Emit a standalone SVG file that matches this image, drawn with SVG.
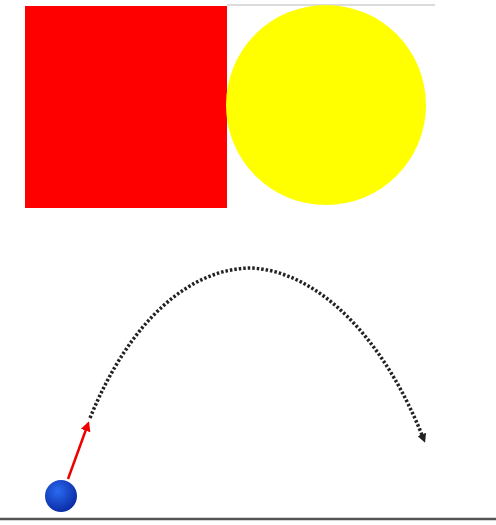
<svg xmlns="http://www.w3.org/2000/svg" width="496" height="525" viewBox="0 0 496 525">
<defs>
<marker id="ah" markerWidth="9" markerHeight="9" refX="6" refY="4.5" orient="auto" markerUnits="userSpaceOnUse"><path d="M0,0 L9,4.5 L0,9 z" fill="#222"/></marker>
<marker id="ahr" markerWidth="10" markerHeight="10" refX="7" refY="5" orient="auto" markerUnits="userSpaceOnUse"><path d="M0,0 L10,5 L0,10 z" fill="#e00"/></marker>
<radialGradient id="ball" cx="0.4" cy="0.35" r="0.7"><stop offset="0" stop-color="#2a6af0"/><stop offset="1" stop-color="#0828a0"/></radialGradient>
</defs>
<rect width="496" height="525" fill="#fff"/>
<line x1="227" y1="5" x2="435" y2="5" stroke="#d0d0d0" stroke-width="1.5"/>
<g id="square"><rect x="25" y="6" width="202" height="202" fill="#ff0000"/></g>
<g id="circle"><circle cx="326" cy="105" r="100" fill="#ffff00"/></g>
<g id="connectors">
<path d="M90,418 C130,320 190,268 252,268 C320,272 385,340 424,440" fill="none" stroke="#222" stroke-width="3.5" stroke-dasharray="2.5 2" marker-end="url(#ah)"/>
<line x1="68" y1="479" x2="88" y2="424" stroke="#e00" stroke-width="2.5" marker-end="url(#ahr)"/>
</g>
<g id="ball-node"><circle cx="61" cy="496" r="16" fill="url(#ball)"/></g>
<line x1="0" y1="519" x2="496" y2="519" stroke="#555" stroke-width="2.5"/>
</svg>
